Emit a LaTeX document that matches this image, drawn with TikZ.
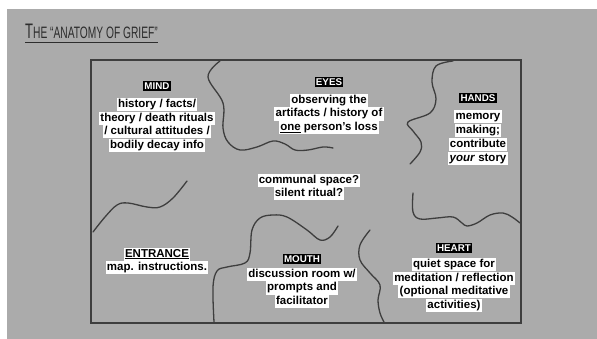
\documentclass[tikz,border=0pt]{standalone}
\usepackage{fontspec}
\usepackage{graphicx}
\setmainfont{Liberation Sans}
\definecolor{bg}{RGB}{171,171,171}
\definecolor{ink}{RGB}{62,62,62}
\definecolor{titleink}{RGB}{45,45,45}
\setlength{\fboxsep}{1.2pt}
\newcommand\wl[1]{\colorbox{white}{\vphantom{Ahy/(}#1}}
\begin{document}
\begin{tikzpicture}[x=1pt,y=-1pt,
  tag/.style={fill=black,text=white,inner sep=1.3pt,font=\bfseries\fontsize{9.8}{10}\selectfont},
  body/.style={align=center,inner sep=0pt,font=\bfseries\fontsize{11.5}{13.8}\selectfont},
  wave/.style={draw=ink,line width=1.3pt,line cap=round,line join=round},
  frame/.style={draw=ink,line width=1.4pt}]
\useasboundingbox (0,0) rectangle (597,339);
\fill[white] (0,0) rectangle (597,339);
\fill[bg] (7,9) rectangle (597,339);

% title
\node[anchor=base west,inner sep=0pt,text=titleink] (title) at (25,39)
  {\scalebox{0.62}[1]{{\fontsize{21}{22}\selectfont T}{\fontsize{16.5}{17}\selectfont HE \char"201C ANATOMY OF GRIEF\char"201D}}};
\draw[titleink,line width=1.6pt] ([yshift=-3.5pt]title.base west) -- ([yshift=-3.5pt]title.base east);

% frame
\draw[frame] (91,60) rectangle (521,323);

% boundaries
\draw[wave] plot[smooth,tension=0.6] coordinates {(220,61) (208,77) (223,103) (223,128) (228,142) (240,150) (257,147) (273,141) (285,144) (295,150) (308,150) (323,147) (333,148)};
\draw[wave] plot[smooth,tension=0.6] coordinates {(453,61) (436,66) (432,82) (436,99) (430,113) (408,122) (413,131) (421,142) (420,152) (410,164)};
\draw[wave] plot[smooth,tension=0.6] coordinates {(93,232) (105,217) (117,205) (128,203) (147,207) (160,207) (173,198) (187,181)};
\draw[wave] plot[smooth,tension=0.6] coordinates {(214,322) (213,287) (217,271) (227,267) (245,263) (250,253) (252,230) (260,218) (273,215) (287,217) (307,230) (320,240) (330,237) (338,226)};
\draw[wave] plot[smooth,tension=0.6] coordinates {(370,230) (360,245) (360,260) (370,273) (380,285) (378,300) (380,313) (384,322)};
\draw[wave] plot[smooth,tension=0.6] coordinates {(413,193) (413,212) (420,219) (437,218) (453,217) (462,223) (467,226) (477,223) (490,215) (503,213) (512,217) (520,223)};

% MIND
\node[tag] (mindtag) at (157,86) {MIND};
\node[body] (mind) at (157,125) {\wl{history / facts/}\\\wl{theory / death rituals}\\\wl{/ cultural attitudes /}\\\wl{bodily decay info}};

% EYES
\node[tag] (eyestag) at (329,82) {EYES};
\node[body] (eyes) at (329,114) {\wl{observing the}\\\wl{artifacts / history of}\\\wl{\underline{one} person's loss}};

% HANDS
\node[tag] (handstag) at (478,98) {HANDS};
\node[body] (hands) at (478,137.5) {\wl{memory}\\\wl{making;}\\\wl{contribute}\\\wl{\textit{your} story}};

% centre
\node[body] (centre) at (309,187) {\wl{communal space?}\\\wl{silent ritual?}};

% ENTRANCE
\node[body] (entrance) at (157,261) {\wl{\underline{ENTRANCE}}\\\wl{map. instructions.}};

% MOUTH
\node[tag] (mouthtag) at (302,259) {MOUTH};
\node[body] (mouth) at (302,288) {\wl{discussion room w/}\\\wl{prompts and}\\\wl{facilitator}};

% HEART
\node[tag] (hearttag) at (454,248) {HEART};
\node[body] (heart) at (454,285) {\wl{quiet space for}\\\wl{meditation / reflection}\\\wl{(optional meditative}\\\wl{activities)}};
\end{tikzpicture}
\end{document}
